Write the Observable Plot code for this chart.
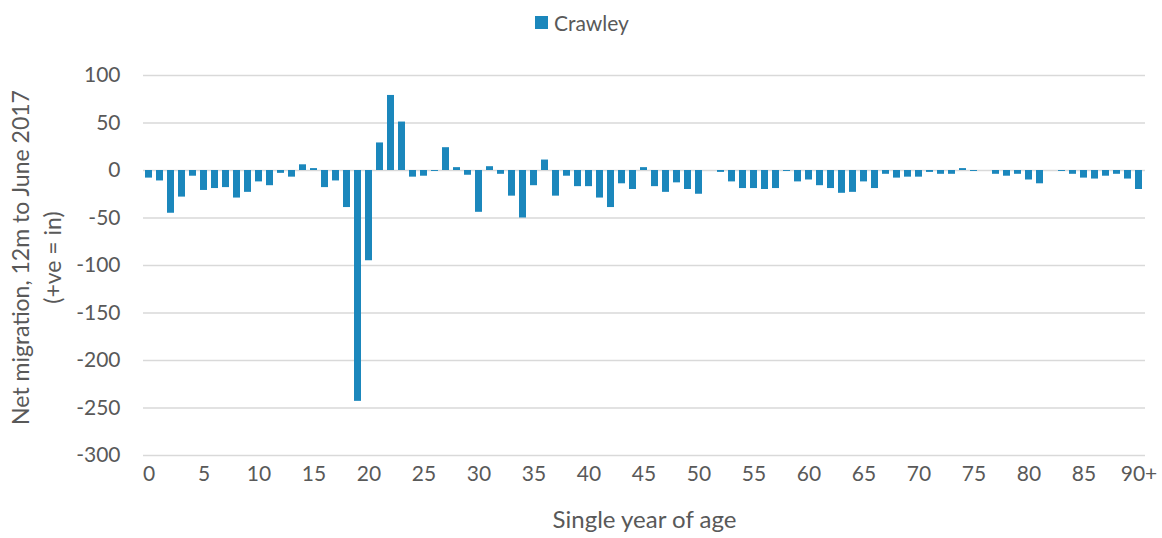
<!DOCTYPE html>
<html>
<head>
<meta charset="utf-8">
<script src="https://cdn.jsdelivr.net/npm/d3@7"></script>
<script src="https://cdn.jsdelivr.net/npm/@observablehq/plot@0.6"></script>
<style>
  html, body { margin: 0; padding: 0; background: #fff; }
  body { width: 1162px; height: 538px; overflow: hidden; font-family: Lato, "Open Sans", sans-serif; }
  #legend { height: 45px; display: flex; justify-content: center; align-items: center; color: #595959; font-size: 21px; padding-left: 2px; box-sizing: border-box; }
  #legend .sw { width: 13px; height: 13px; background: #1b87bc; margin-right: 6px; }
</style>
</head>
<body>
<div id="legend"><span class="sw"></span><span>Crawley</span></div>
<div id="chart"></div>
<script>
const seriesName = "Crawley";
const ageLabels = [
  "0","1","2","3","4","5","6","7","8","9","10","11","12","13","14","15","16","17","18","19",
  "20","21","22","23","24","25","26","27","28","29","30","31","32","33","34","35","36","37","38","39",
  "40","41","42","43","44","45","46","47","48","49","50","51","52","53","54","55","56","57","58","59",
  "60","61","62","63","64","65","66","67","68","69","70","71","72","73","74","75","76","77","78","79",
  "80","81","82","83","84","85","86","87","88","89","90+"
];
const netMigration = [
  -8, -11, -45, -28, -6, -21, -19, -18, -29, -23,
  -12, -16, -3, -7, 6, 2, -18, -11, -39, -243,
  -95, 29, 79, 51, -7, -6, -1, 24, 3, -5,
  -44, 4, -4, -27, -50, -16, 11, -27, -6, -17,
  -17, -29, -39, -14, -20, 3, -17, -23, -13, -20,
  -25, 0, -2, -12, -19, -19, -20, -19, -1, -12,
  -10, -16, -19, -24, -23, -12, -19, -4, -8, -7,
  -7, -2, -4, -4, 2, -1, 0, -4, -6, -4,
  -10, -14, 0, -1, -4, -8, -9, -6, -4, -9,
  -20
];
const yTicks = [100, 50, 0, -50, -100, -150, -200, -250, -300];
const xTickLabels = ["0","5","10","15","20","25","30","35","40","45","50","55","60","65","70","75","80","85","90+"];
const yTitle = "Net migration, 12m to June 2017\n(+ve = in)";
const xTitle = "Single year of age";

document.querySelector("#legend span:last-child").textContent = seriesName;

const data = ageLabels.map((a, i) => ({age: a, value: netMigration[i]}));

const chart = Plot.plot({
  width: 1162,
  height: 493,
  marginLeft: 143,
  marginRight: 17,
  marginTop: 30,
  marginBottom: 83,
  style: {fontFamily: "Lato, 'Open Sans', sans-serif", fontSize: "21px", color: "#595959", background: "#fff", overflow: "visible"},
  x: {type: "band", domain: ageLabels, paddingInner: 0.34, paddingOuter: 0.17, align: 0.5},
  y: {domain: [-300, 100]},
  marks: [
    Plot.ruleY(yTicks, {stroke: "#d9d9d9", strokeWidth: 1.5}),
    Plot.barY(data, {x: "age", y: "value", fill: "#1b87bc"}),
    Plot.axisY({ticks: yTicks, tickSize: 0, tickPadding: 23, label: null, tickFormat: d => String(d), fill: "#595959", fontSize: 21}),
    Plot.axisX({ticks: xTickLabels, tickSize: 0, tickPadding: 11, label: null, fill: "#595959", fontSize: 21}),
    Plot.text([yTitle], {frameAnchor: "left", textAnchor: "middle", rotate: -90, dx: -109, dy: -8, text: d => d, fill: "#595959", fontSize: 23, lineHeight: 1.43}),
    Plot.text([xTitle], {frameAnchor: "bottom", dy: 72, text: d => d, fill: "#595959", fontSize: 24})
  ]
});
document.getElementById("chart").appendChild(chart);
</script>
</body>
</html>
